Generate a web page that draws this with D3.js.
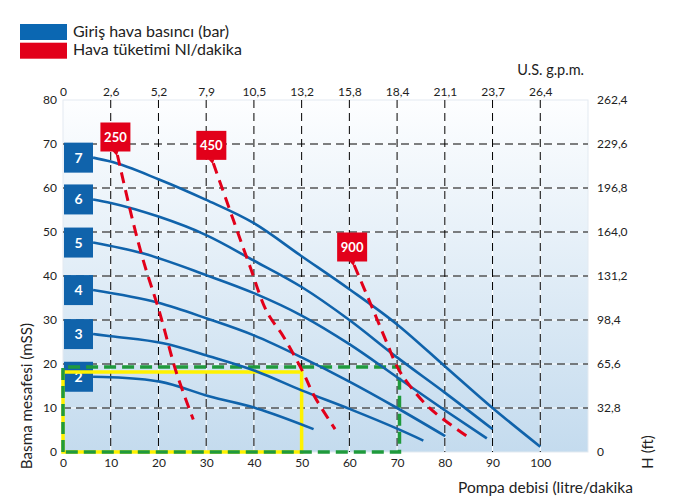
<!DOCTYPE html>
<html>
<head>
<meta charset="utf-8">
<script src="https://cdn.jsdelivr.net/npm/d3@7/dist/d3.min.js"></script>
<style>
  html, body { margin: 0; padding: 0; background: #ffffff; }
  svg { display: block; }
  text { font-family: Lato, "Open Sans", sans-serif; }
</style>
</head>
<body>
<svg id="chart" width="681" height="504"></svg>
<script>
// ---------- DATA ----------
const flowTicks = [0, 10, 20, 30, 40, 50, 60, 70, 80, 90, 100];          // litre/dakika
const gpmLabels = ["0", "2,6", "5,2", "7,9", "10,5", "13,2", "15,8", "18,4", "21,1", "23,7", "26,4"];
const headTicks = [0, 10, 20, 30, 40, 50, 60, 70, 80];                  // mSS
const ftLabels = ["0", "32,8", "65,6", "98,4", "131,2", "164,0", "196,8", "229,6", "262,4"];

const pressureLabels = ["2", "3", "4", "5", "6", "7"];
const pressure2 = [[6.3,17.1],[10,17],[20.3,16],[30.8,12.6],[40.6,9.9],[52.5,5.2]];
const pressure3 = [[6.3,26.8],[10,26.3],[21,24.7],[30.8,21.7],[40.6,18.3],[50,14],[60,9.8],[70,5.3],[75.5,2.6]];
const pressure4 = [[6.3,36.8],[20,33.9],[30,30.4],[40,26.5],[50,21.5],[60,16],[70,10],[80.1,3.6]];
const pressure5 = [[6.3,47.6],[16.5,45.2],[30,40.2],[40,36.1],[50,31],[60,24.5],[70,17],[80,9.5],[88.8,3.1]];
const pressure6 = [[6.3,57.4],[10,56.6],[20,53.5],[30,49.3],[40,43.5],[50,37.5],[60,30],[70,21.5],[80,13.5],[90,5.2]];
const pressure7 = [[6.3,66.9],[10,66],[20,62],[30,57.3],[40,52],[50,44.5],[60,37],[70,29],[80,19.5],[90,10],[100,1.2]];
const pressureCurves = [pressure2, pressure3, pressure4, pressure5, pressure6, pressure7];

const consumptionLabels = ["250", "450", "900"];
const consumption250 = [[11.4,67.5],[14.4,53.5],[16.8,43.6],[20.3,31.5],[23.8,17.9],[27.3,7.4]];
const consumption450 = [[31.5,65.6],[35.7,52.7],[39.2,42.1],[42.7,31.9],[46.2,26.2],[50.4,17.9],[52.5,13],[57,5.2]];
const consumption900 = [[61,42.5],[64.4,33.8],[67.9,24.7],[70,19.4],[72,16],[76.9,9.9],[85.3,3.1]];
const consumptionCurves = [consumption250, consumption450, consumption900];

// operating envelopes [maxFlow, maxHead]
const yellowZone = [50, 18.2];
const greenZone = [70.5, 19.3];

const legendItems = ["Giriş hava basıncı (bar)", "Hava tüketimi Nl/dakika"];

// ---------- LAYOUT ----------
const svg = d3.select("#chart");
const x = d3.scaleLinear().domain([0, 110]).range([63, 588]);
const y = d3.scaleLinear().domain([0, 80]).range([452, 100]);
const BLUE = "#1063ab", RED = "#e2001a", GREEN = "#1f9a3c", YELLOW = "#fff200";

// background gradient
const defs = svg.append("defs");
const grad = defs.append("linearGradient").attr("id", "bg").attr("x1", 0).attr("y1", 0).attr("x2", 0).attr("y2", 1);
grad.append("stop").attr("offset", "0%").attr("stop-color", "#fdfeff");
grad.append("stop").attr("offset", "100%").attr("stop-color", "#c4dbee");

svg.append("rect")
  .attr("x", x(0)).attr("y", y(80))
  .attr("width", x(110) - x(0)).attr("height", y(0) - y(80))
  .attr("fill", "url(#bg)").attr("stroke", "#e3eaf1").attr("stroke-width", 1);

// grid
const grid = svg.append("g");
const vTicks = flowTicks.filter(d => d > 0);
const hTicks = headTicks.filter(d => d > 0 && d < 80);
[["#ffffff", null], ["#000000", "8,5"]].forEach(([col, dash]) => {
  grid.selectAll(null).data(vTicks).enter().append("line")
    .attr("x1", d => x(d)).attr("x2", d => x(d))
    .attr("y1", y(80)).attr("y2", y(0))
    .attr("stroke", col).attr("stroke-width", 1).attr("stroke-dasharray", dash);
  grid.selectAll(null).data(hTicks).enter().append("line")
    .attr("x1", x(0)).attr("x2", x(110))
    .attr("y1", d => y(d)).attr("y2", d => y(d))
    .attr("stroke", col).attr("stroke-width", 1).attr("stroke-dasharray", dash);
});

// axes labels
const styleTicks = g => g.selectAll("text").attr("font-size", 12).attr("fill", "#222").attr("font-family", "Lato, sans-serif");
const bottomAxis = d3.axisBottom(x).tickValues(flowTicks).tickSize(0).tickPadding(6);
svg.append("g").attr("transform", `translate(0,${y(0)})`).call(bottomAxis)
  .call(g => g.select(".domain").remove()).call(styleTicks);
const topAxis = d3.axisTop(x).tickValues(flowTicks).tickFormat((d, i) => gpmLabels[i]).tickSize(0).tickPadding(4);
svg.append("g").attr("transform", `translate(0,${y(80)})`).call(topAxis)
  .call(g => g.select(".domain").remove()).call(styleTicks);
const leftAxis = d3.axisLeft(y).tickValues(headTicks).tickSize(0).tickPadding(6);
svg.append("g").attr("transform", `translate(${x(0)},0)`).call(leftAxis)
  .call(g => g.select(".domain").remove()).call(styleTicks);
const rightAxis = d3.axisRight(y).tickValues(headTicks).tickFormat((d, i) => ftLabels[i]).tickSize(0).tickPadding(9);
svg.append("g").attr("transform", `translate(${x(110)},0)`).call(rightAxis)
  .call(g => g.select(".domain").remove()).call(styleTicks);

// titles
svg.append("text").attr("x", 584).attr("y", 75).attr("text-anchor", "end")
  .attr("font-size", 14.5).attr("fill", "#222").text("U.S. g.p.m.");
svg.append("text").attr("x", 458).attr("y", 493)
  .attr("font-size", 15.5).attr("fill", "#222").text("Pompa debisi (litre/dakika");
svg.append("text").attr("transform", "translate(32,396) rotate(-90)").attr("text-anchor", "middle")
  .attr("font-size", 15.2).attr("fill", "#222").text("Basma mesafesi (mSS)");
svg.append("text").attr("transform", "translate(653,452) rotate(-90)").attr("text-anchor", "middle")
  .attr("font-size", 15).attr("fill", "#222").text("H (ft)");

// legend
const legend = svg.append("g");
legend.selectAll("rect").data(legendItems).enter().append("rect")
  .attr("x", 20).attr("y", (d, i) => 24 + i * 18.7).attr("width", 47).attr("height", 16)
  .attr("fill", (d, i) => i === 0 ? "#0b67b2" : RED);
legend.selectAll("text").data(legendItems).enter().append("text")
  .attr("x", 73).attr("y", (d, i) => 36.5 + i * 18.7)
  .attr("font-size", 16).attr("fill", "#222").text(d => d);

// pressure label boxes (under envelopes)
const pBoxes = svg.append("g");
pressureCurves.forEach((c, i) => {
  const cy = y(c[0][1]);
  pBoxes.append("rect").attr("x", x(0) + 1).attr("y", cy - 15).attr("width", 29).attr("height", 30).attr("fill", BLUE);
  pBoxes.append("text").attr("x", x(0) + 15.5).attr("y", cy + 5).attr("text-anchor", "middle")
    .attr("font-size", 14).attr("font-weight", "bold").attr("fill", "#fff").text(pressureLabels[i]);
});

// envelopes
svg.append("path")
  .attr("d", `M${x(0)},${y(yellowZone[1])}H${x(yellowZone[0])}V${y(0)}H${x(0)}Z`)
  .attr("fill", "none").attr("stroke", YELLOW).attr("stroke-width", 3.5);
svg.append("path")
  .attr("d", `M${x(0)},${y(0)}V${y(greenZone[1])}H${x(greenZone[0])}V${y(0)}Z`)
  .attr("fill", "none").attr("stroke", GREEN).attr("stroke-width", 3.5).attr("stroke-dasharray", "12,6");

// pressure curves
const line = d3.line().x(d => x(d[0])).y(d => y(d[1])).curve(d3.curveMonotoneX);
svg.append("g").selectAll("path").data(pressureCurves).enter().append("path")
  .attr("d", line).attr("fill", "none").attr("stroke", BLUE).attr("stroke-width", 2.6);

// consumption curves
const line2 = d3.line().x(d => x(d[0])).y(d => y(d[1])).curve(d3.curveCatmullRom);
svg.append("g").selectAll("path").data(consumptionCurves).enter().append("path")
  .attr("d", line2).attr("fill", "none").attr("stroke", RED).attr("stroke-width", 3)
  .attr("stroke-dasharray", "11,7");

// consumption labels
consumptionCurves.forEach((c, i) => {
  const cx = x(c[0][0]) - 2, cy = y(c[0][1]) - 18;
  svg.append("path")
    .attr("d", `M${cx - 3},${cy + 14}L${cx + 3},${cy + 14}L${cx + 1.5},${cy + 19}Z`).attr("fill", RED);
  svg.append("rect").attr("x", cx - 15).attr("y", cy - 14.5).attr("width", 30).attr("height", 29).attr("fill", RED);
  svg.append("text").attr("x", cx).attr("y", cy + 5).attr("text-anchor", "middle")
    .attr("font-size", 13).attr("font-weight", "bold").attr("fill", "#fff").text(consumptionLabels[i]);
});
</script>
</body>
</html>
